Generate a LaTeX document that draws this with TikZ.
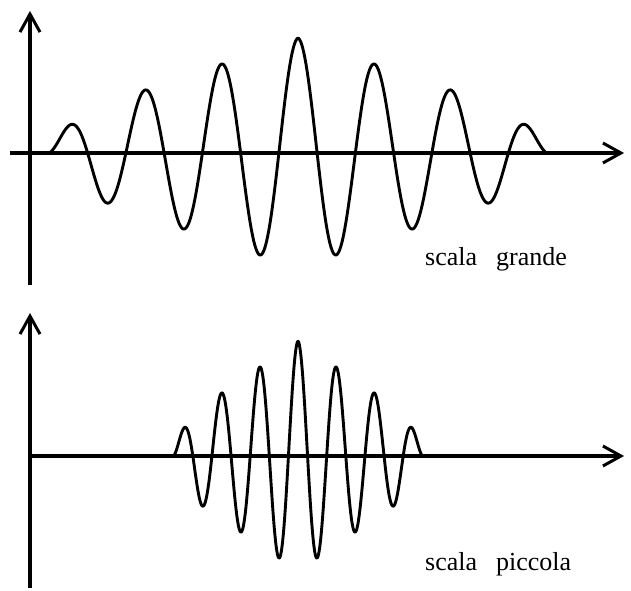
\documentclass[tikz,border=0pt]{standalone}
\usepackage{fontspec}
\setmainfont{Liberation Serif}
\usetikzlibrary{arrows.meta}

\begin{document}
\begin{tikzpicture}[x=1pt, y=1pt,
  axis/.style={line width=3.2pt, -{Straight Barb[length=18pt, width=20pt, line width=3pt]}},
  wave/.style={line width=2.9pt, line join=round},
  lbl/.style={anchor=base west, inner sep=0pt, font=\fontsize{26}{30}\selectfont},
  declare function={env(\k)=115-13*\k-10*max(0,\k-5)*max(0,\k-5);}
]
\useasboundingbox (0,0) rectangle (631,590);
% upper panel
\coordinate (g0) at (30,305);
\coordinate (gy) at (30,579);
\coordinate (gl) at (10,437);
\coordinate (gx) at (624,437);
\draw[axis] (g0) -- (gy);
\draw[axis] (gl) -- (gx);
\draw[wave] plot[domain=49.4:546.6, samples=400]
  (\x, {437 + env(abs(\x-298)/38.25)*cos((\x-298)*4.70588)});
\node[lbl] (grande) at (425,325) {scala\hspace{19pt}grande};
% lower panel
\coordinate (p0) at (30,2);
\coordinate (py) at (30,277);
\coordinate (pl) at (30,134);
\coordinate (px) at (624,134);
\draw[axis] (p0) -- (py);
\draw[axis] (pl) -- (px);
\draw[wave] plot[domain=173.7:422.3, samples=400]
  (\x, {134 + env(abs(\x-298)/19.125)*cos((\x-298)*9.41176)});
\node[lbl] (piccola) at (425,20) {scala\hspace{19pt}piccola};
\end{tikzpicture}
\end{document}
